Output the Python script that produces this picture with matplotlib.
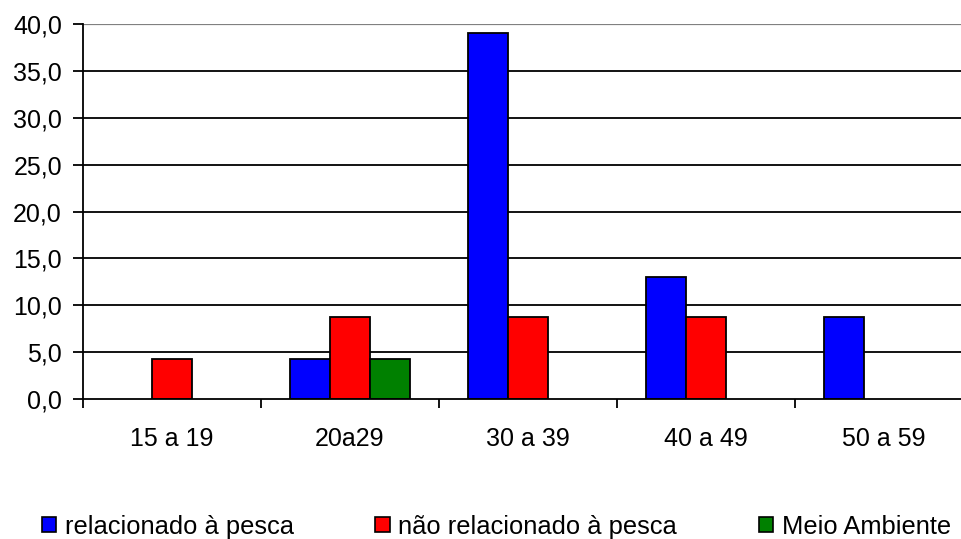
import numpy as np
import matplotlib.pyplot as plt
from matplotlib.patches import Patch
from matplotlib.ticker import FuncFormatter

plt.rcParams['font.family'] = ['Liberation Sans', 'DejaVu Sans']

# --- Data ---
categories = ['15 a 19', '20a29', '30 a 39', '40 a 49', '50 a 59']
relacionado = [0, 4.3, 39.1, 13.0, 8.7]
nao_relacionado = [4.3, 8.7, 8.7, 8.7, 0]
meio_ambiente = [0, 4.3, 0, 0, 0]

series = [
    ('relacionado à pesca', relacionado, '#0000ff'),
    ('não relacionado à pesca', nao_relacionado, '#ff0000'),
    ('Meio Ambiente', meio_ambiente, '#008000'),
]

fig = plt.figure(figsize=(9.62, 5.39), dpi=100)
ax = fig.add_axes([0.0863, 0.260, 0.925, 0.6946])

x = np.arange(len(categories))
w = 0.225
offsets = [-w, 0, w]
for (name, vals, col), off in zip(series, offsets):
    vals = np.array(vals, dtype=float)
    # Excel-style: zero values are not drawn
    mask = vals > 0
    ax.bar(x[mask] + off, vals[mask], width=w, color=col,
           edgecolor='black', linewidth=1.3, zorder=3)

# gridlines
for yv in np.arange(5, 40, 5):
    ax.axhline(yv, color='black', linewidth=1.3, zorder=1)
ax.axhline(40, color='#808080', linewidth=1.6, zorder=1)

ax.set_xlim(-0.5, 4.5)
ax.set_ylim(0, 40)
ax.set_yticks(np.arange(0, 45, 5))
ax.yaxis.set_major_formatter(FuncFormatter(lambda v, p: f'{v:.1f}'.replace('.', ',')))

ax.set_xticks(x)
ax.set_xticklabels(categories)
ax.set_xticks(np.arange(-0.5, 5, 1), minor=True)
ax.tick_params(axis='x', which='major', length=0, pad=20, labelsize=18)
ax.tick_params(axis='x', which='minor', length=6.5, width=1.3, direction='out')
ax.tick_params(axis='y', length=7.2, width=1.3, direction='out', pad=8, labelsize=18)

for s in ['top', 'right']:
    ax.spines[s].set_visible(False)
for s in ['left', 'bottom']:
    ax.spines[s].set_linewidth(1.3)
    ax.spines[s].set_zorder(4)

handles = [Patch(facecolor=col, edgecolor='black', linewidth=1.2, label=name)
           for name, vals, col in series]
fig.legend(handles=handles, loc='center', bbox_to_anchor=(0.516, 0.023), ncol=3,
           frameon=False, fontsize=18.4, handlelength=0.55, handleheight=0.5,
           handletextpad=0.35, columnspacing=3.2, borderpad=0.1)

fig.savefig('out.png', dpi=100)
